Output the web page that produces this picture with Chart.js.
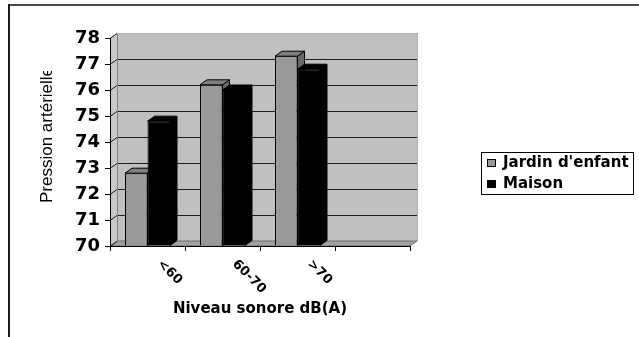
<!DOCTYPE html>
<html>
<head>
<meta charset="utf-8">
<script src="https://cdn.jsdelivr.net/npm/chart.js@4/dist/chart.umd.min.js"></script>
<style>
  html, body { margin: 0; padding: 0; background: #fff; }
  #wrap { width: 639px; height: 337px; position: relative; }
</style>
</head>
<body>
<div id="wrap"><canvas id="c" width="639" height="337"></canvas></div>
<script>
// Noise level classes (the last slot of the axis is left empty)
const categories = ['<60', '60-70', '>70', ''];
const seriesNames = ["Jardin d'enfant", 'Maison'];
const jardinValues = [72.8, 76.2, 77.3, null];
const maisonValues = [74.8, 76.0, 76.8, null];
const yTickValues = [70, 71, 72, 73, 74, 75, 76, 77, 78];
const axisFloor = 70;
const xTitle = 'Niveau sonore dB(A)';
const yTitle = 'Pression artérielle';

// depth of the pseudo-3D box
const DX = 7, DY = -5;

const faceColors = [
  { front: '#999999', top: '#7f7f7f', side: '#6a6a6a' },
  { front: '#000000', top: '#000000', side: '#000000' }
];

function poly(ctx, pts, fill, stroke, lw) {
  ctx.beginPath();
  ctx.moveTo(pts[0][0], pts[0][1]);
  for (let i = 1; i < pts.length; i++) ctx.lineTo(pts[i][0], pts[i][1]);
  ctx.closePath();
  if (fill) { ctx.fillStyle = fill; ctx.fill(); }
  if (stroke) { ctx.strokeStyle = stroke; ctx.lineWidth = lw || 1; ctx.stroke(); }
}

const boxPlugin = {
  id: 'box3d',
  beforeDraw(chart) {
    const ctx = chart.ctx;
    const a = chart.chartArea;
    const ys = chart.scales.y;
    ctx.save();
    ctx.fillStyle = '#fff';
    ctx.fillRect(0, 0, chart.width, chart.height);
    // outer frame
    ctx.fillStyle = '#4a4a4a';
    ctx.fillRect(8, 4, chart.width - 8, 2);
    ctx.fillStyle = '#1a1a1a';
    ctx.fillRect(8, 4, 2, chart.height - 4);

    // left wall
    poly(ctx, [[a.left, a.bottom], [a.left, a.top], [a.left + DX, a.top + DY], [a.left + DX, a.bottom + DY]], '#c8c8c8', null);
    // back wall
    ctx.fillStyle = '#c0c0c0';
    ctx.fillRect(a.left + DX, a.top + DY, a.right - a.left, a.bottom - a.top);
    // floor
    poly(ctx, [[a.left, a.bottom], [a.right, a.bottom], [a.right + DX, a.bottom + DY], [a.left + DX, a.bottom + DY]], '#a2a2a2', '#6e6e6e', 1);

    // gridlines: diagonal on the left wall then across the back wall
    ctx.strokeStyle = '#1e1e1e';
    ctx.lineWidth = 1;
    yTickValues.forEach(v => {
      const y = Math.round(ys.getPixelForValue(v)) + 0.5;
      ctx.beginPath();
      ctx.moveTo(a.left, y);
      ctx.lineTo(a.left + DX, y + DY);
      if (v !== axisFloor) ctx.lineTo(a.right + DX, y + DY);
      ctx.stroke();
    });
    // wall edges
    ctx.strokeStyle = '#808080';
    ctx.beginPath();
    ctx.moveTo(a.left + DX + 0.5, a.top + DY);
    ctx.lineTo(a.left + DX + 0.5, a.bottom + DY);
    ctx.stroke();
    ctx.strokeStyle = '#b0b0b0';
    ctx.beginPath();
    ctx.moveTo(a.right + DX + 0.5, a.top + DY);
    ctx.lineTo(a.right + DX + 0.5, a.bottom + DY);
    ctx.moveTo(a.left + DX, a.top + DY + 0.5);
    ctx.lineTo(a.right + DX, a.top + DY + 0.5);
    ctx.stroke();
    ctx.restore();
  },
  beforeDatasetsDraw(chart) {
    const ctx = chart.ctx;
    ctx.save();
    chart.data.datasets.forEach((ds, di) => {
      const meta = chart.getDatasetMeta(di);
      const c = faceColors[di];
      meta.data.forEach((el, i) => {
        if (ds.data[i] == null) return;
        const { x, y, base, width } = el.getProps(['x', 'y', 'base', 'width'], true);
        const l = x - width / 2, r = x + width / 2;
        poly(ctx, [[r, y], [r + DX, y + DY], [r + DX, base + DY], [r, base]], c.side, '#000', 1);
        poly(ctx, [[l, y], [l + DX, y + DY], [r + DX, y + DY], [r, y]], c.top, '#000', 1);
      });
    });
    ctx.restore();
  },
  afterDraw(chart) {
    const ctx = chart.ctx;
    const xs = chart.scales.x;
    const a = chart.chartArea;
    ctx.save();

    // slanted category labels
    ctx.fillStyle = '#000';
    ctx.font = 'bold 13px "DejaVu Sans"';
    ctx.textAlign = 'left';
    ctx.textBaseline = 'middle';
    categories.forEach((lab, i) => {
      if (!lab) return;
      const cx = xs.getPixelForValue(i);
      ctx.save();
      ctx.translate(cx + 12, a.bottom + 16);
      ctx.rotate(Math.PI / 4);
      ctx.fillText(lab, 0, 0);
      ctx.restore();
    });

    // vertical axis title, cut at the top like the frame does
    ctx.save();
    ctx.beginPath();
    ctx.rect(20, 71, 60, 200);
    ctx.clip();
    ctx.translate(47, 203);
    ctx.rotate(-Math.PI / 2);
    ctx.font = '17px "Liberation Sans", Arial, sans-serif';
    ctx.textAlign = 'left';
    ctx.textBaseline = 'middle';
    ctx.fillText(yTitle, 0, 0);
    ctx.restore();

    // legend
    const lx = 481, ly = 152, lw = 152, lh = 42;
    ctx.strokeStyle = '#000';
    ctx.lineWidth = 1;
    ctx.strokeRect(lx + 0.5, ly + 0.5, lw, lh);
    ctx.font = 'bold 15px "DejaVu Sans"';
    ctx.textBaseline = 'middle';
    chart.data.datasets.forEach((ds, di) => {
      const cy = ly + 11 + di * 21;
      ctx.fillStyle = ds.backgroundColor;
      ctx.fillRect(lx + 6, cy - 4, 9, 8);
      ctx.strokeStyle = '#000';
      ctx.strokeRect(lx + 6.5, cy - 3.5, 8, 7);
      ctx.fillStyle = '#000';
      ctx.fillText(ds.label, lx + 22, cy);
    });
    ctx.restore();
  }
};

new Chart(document.getElementById('c'), {
  type: 'bar',
  data: {
    labels: categories,
    datasets: [
      { label: seriesNames[0], data: jardinValues, base: axisFloor, backgroundColor: faceColors[0].front, borderColor: '#000', borderWidth: 1 },
      { label: seriesNames[1], data: maisonValues, base: axisFloor, backgroundColor: faceColors[1].front, borderColor: '#000', borderWidth: 1 }
    ]
  },
  options: {
    responsive: false,
    animation: false,
    devicePixelRatio: 1,
    layout: { padding: { left: 10, top: 38, right: 229, bottom: 0 } },
    datasets: { bar: { categoryPercentage: 0.6, barPercentage: 1.0 } },
    plugins: { legend: { display: false }, tooltip: { enabled: false } },
    scales: {
      x: {
        offset: true,
        grid: { offset: true, drawOnChartArea: false, tickLength: 5, color: '#000' },
        border: { color: '#000', width: 1 },
        ticks: { display: false },
        title: {
          display: true, text: xTitle, color: '#000',
          font: { family: 'DejaVu Sans', weight: 'bold', size: 15 },
          padding: { top: 0, bottom: 19 }
        },
        afterFit(s) { s.height = 91; }
      },
      y: {
        min: 70, max: 78,
        afterBuildTicks(s) { s.ticks = yTickValues.map(v => ({ value: v })); },
        ticks: { color: '#000', padding: 5, font: { family: 'DejaVu Sans', weight: 'bold', size: 18 } },
        grid: { drawOnChartArea: false, tickLength: 5, color: '#000' },
        border: { color: '#000', width: 1 },
        afterFit(s) { s.width = 100; }
      }
    }
  },
  plugins: [boxPlugin]
});
</script>
</body>
</html>
